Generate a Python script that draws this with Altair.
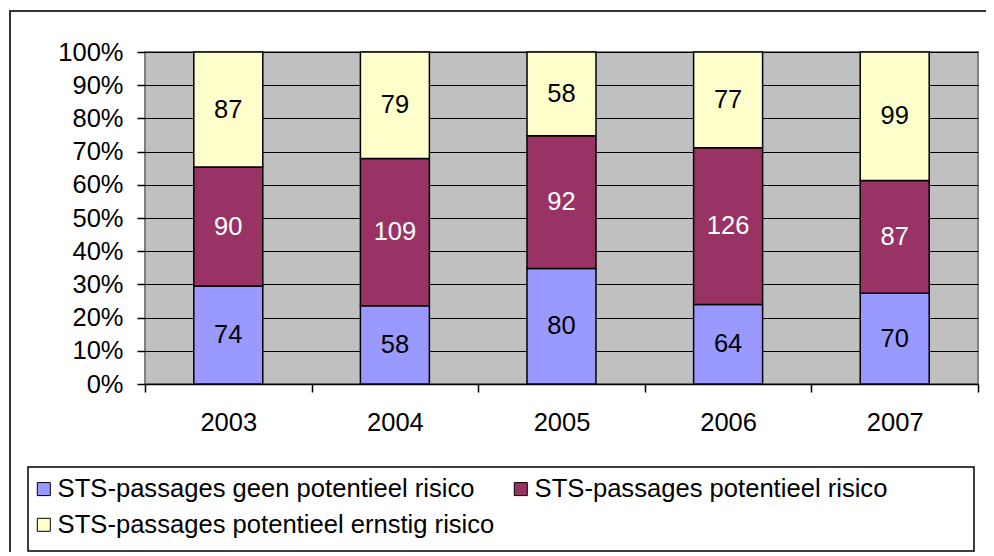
import json
import altair as alt
import pandas as pd

years = ["2003", "2004", "2005", "2006", "2007"]
series = [
    "STS-passages geen potentieel risico",
    "STS-passages potentieel risico",
    "STS-passages potentieel ernstig risico",
]
geen = [74, 58, 80, 64, 70]
potentieel = [90, 109, 92, 126, 87]
ernstig = [87, 79, 58, 77, 99]
colors = ["#9999FF", "#993366", "#FFFFCC"]
y_ticks = [0, 0.1, 0.2, 0.3, 0.4, 0.5, 0.6, 0.7, 0.8, 0.9, 1.0]

rows = []
for i, yr in enumerate(years):
    for k, (name, vals) in enumerate(zip(series, [geen, potentieel, ernstig])):
        rows.append({"year": yr, "idx": i, "series": name, "order": k, "value": vals[i]})
df = pd.DataFrame(rows)

FONT = "Liberation Sans"
FS = 25.5

base = alt.Chart(df).transform_stack(
    stack="value", groupby=["year"], as_=["v0", "v1"], offset="normalize",
    sort=[alt.SortField("order", "ascending")],
).transform_calculate(
    xa="datum.idx + 0.293", xb="datum.idx + 0.707", xm="datum.idx + 0.5",
    ym="(datum.v0 + datum.v1) / 2",
)

xscale = alt.Scale(domain=[0, 5], nice=False, zero=False)
yscale = alt.Scale(domain=[0, 1], nice=False)

label_expr = "(" + json.dumps(years) + ")[datum.value] || ''"

xaxis = alt.Axis(values=[0, 1, 2, 3, 4, 5], labelExpr=label_expr, labelOffset=83.3,
                 labelFlush=False, labelBound=False, labelOverlap=False, grid=False,
                 domainColor="black", domainWidth=1.5, tickColor="black", tickWidth=1.5,
                 tickSize=8, labelPadding=18, labelFont=FONT, labelFontSize=FS,
                 labelColor="black", title=None)
yaxis = alt.Axis(values=y_ticks, tickCount=20, format=".0%", domain=False, grid=True,
                 labelOverlap=False, labelBound=False, labelFlush=False,
                 gridColor="black", gridWidth=1, gridOpacity=1,
                 tickColor="black", tickWidth=1.5, tickSize=8, labelPadding=14,
                 labelFont=FONT, labelFontSize=FS, labelColor="black", title=None)

bars = base.mark_rect(stroke="black", strokeWidth=1.5).encode(
    x=alt.X("xa:Q", scale=xscale, axis=xaxis),
    x2="xb:Q",
    y=alt.Y("v0:Q", scale=yscale, axis=yaxis),
    y2="v1:Q",
    fill=alt.Color("series:N", scale=alt.Scale(domain=series, range=colors),
                   legend=alt.Legend(orient="none", legendX=-114, legendY=424, columns=2,
                                     direction="horizontal", title=None, symbolType="square",
                                     symbolSize=169, symbolStrokeColor="black",
                                     symbolStrokeWidth=1, symbolOpacity=1,
                                     labelFont=FONT, labelFontSize=25.6, labelColor="black",
                                     labelLimit=600, rowPadding=9, columnPadding=13,
                                     labelOffset=1, padding=0)),
)

texts = base.mark_text(font=FONT, fontSize=FS, baseline="middle", align="center").encode(
    x=alt.X("xm:Q", scale=xscale, axis=xaxis),
    y=alt.Y("ym:Q", scale=yscale, axis=yaxis),
    text="value:Q",
    color=alt.condition(alt.datum.order == 1, alt.value("white"), alt.value("black")),
)

one = pd.DataFrame({"k": [0]})
outer = alt.Chart(one).mark_rect(fill="white", fillOpacity=0, stroke="#333333", strokeWidth=2).encode(
    x=alt.value(-135), x2=alt.value(900), y=alt.value(-41), y2=alt.value(600)
)
legend_box = alt.Chart(one).mark_rect(fill="white", stroke="black", strokeWidth=1.5).encode(
    x=alt.value(-117), x2=alt.value(829), y=alt.value(415), y2=alt.value(499)
)

chart = alt.layer(outer, legend_box, bars, texts).properties(
    width=833, height=332,
    autosize=alt.AutoSizeParams(type="none"),
    padding={"left": 137, "top": 44, "right": 8, "bottom": 168},
    background="white",
).configure_view(fill="#C0C0C0", stroke="#808080", strokeWidth=2)

chart.save("out.html", embed_options={"renderer": "svg", "actions": False})
